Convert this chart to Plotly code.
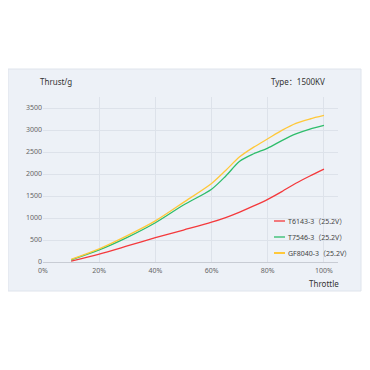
import plotly.graph_objects as go

throttle = [0.10, 0.20, 0.30, 0.40, 0.50, 0.60, 0.65, 0.70, 0.75, 0.80, 0.85, 0.90, 0.95, 1.00]
t6143 = [20, 180, 365, 553, 727, 905, 1010, 1135, 1275, 1425, 1600, 1790, 1955, 2110]
t7546 = [50, 275, 560, 893, 1295, 1655, 1950, 2290, 2460, 2590, 2760, 2910, 3020, 3105]
gf8040 = [60, 300, 600, 935, 1355, 1785, 2080, 2390, 2610, 2800, 2990, 3150, 3250, 3330]
names = ["T6143-3（25.2V）", "T7546-3（25.2V）", "GF8040-3（25.2V）"]
colors = ["#f4393c", "#2ebd6b", "#ffc83a"]
x_ticks = [0, 0.2, 0.4, 0.6, 0.8, 1.0]
x_tick_text = ["0%", "20%", "40%", "60%", "80%", "100%"]
y_ticks = [0, 500, 1000, 1500, 2000, 2500, 3000, 3500]

FONT = "Noto Sans, Noto Sans CJK SC, sans-serif"

fig = go.Figure()
for n, ys, c in zip(names, [t6143, t7546, gf8040], colors):
    fig.add_trace(go.Scatter(x=throttle, y=ys, name=n, mode="lines",
                             line=dict(color=c, width=1.3, shape="spline", smoothing=0.8)))

OFF = 8  # page body margin
SIZE = 370 - OFF
L, R, T, B = 43 - OFF, SIZE - (338 - OFF), 97 - OFF, SIZE - (262 - OFF)
W = SIZE - L - R
H = SIZE - T - B
def px(x):
    return (x - OFF - L) / W
def py(y):
    return (SIZE - B - (y - OFF)) / H

fig.add_shape(type="rect", xref="paper", yref="paper",
              x0=px(8), x1=px(361), y0=py(291), y1=py(69),
              fillcolor="#edf1f7", line=dict(color="#dfe4ec", width=1), layer="below")

annotations = [
    dict(text="Thrust/g", xref="paper", yref="paper", x=px(38), y=py(81),
         xanchor="left", yanchor="middle", showarrow=False,
         font=dict(size=8, color="#333", family=FONT)),
    dict(text="Type：1500KV", xref="paper", yref="paper", x=px(327), y=py(81),
         xanchor="right", yanchor="middle", showarrow=False,
         font=dict(size=8, color="#333", family=FONT)),
    dict(text="Throttle", xref="paper", yref="paper", x=px(341), y=py(283),
         xanchor="right", yanchor="middle", showarrow=False,
         font=dict(size=8, color="#333", family=FONT)),
]

# manual legend (short swatches, tight spacing as in reference)
for i, (n, c) in enumerate(zip(names, colors)):
    yy = 221 + 16 * i
    fig.add_shape(type="line", xref="paper", yref="paper",
                  x0=px(274), x1=px(285), y0=py(yy), y1=py(yy),
                  line=dict(color=c, width=2 if i == 2 else 1.3))
    annotations.append(dict(text=n, xref="paper", yref="paper", x=px(286), y=py(yy),
                            xanchor="left", yanchor="middle", showarrow=False,
                            font=dict(size=7, color="#444", family=FONT)))

fig.update_layout(
    width=SIZE, height=SIZE,
    margin=dict(l=L, r=R, t=T, b=B),
    paper_bgcolor="white", plot_bgcolor="rgba(0,0,0,0)",
    font=dict(family=FONT, size=7, color="#555"),
    showlegend=False,
    xaxis=dict(range=[0, 1.05], tickvals=x_ticks, ticktext=x_tick_text,
               showgrid=True, gridcolor="#dde2ea", gridwidth=1, zeroline=False,
               showline=False, ticks="", ticklabelstandoff=3,
               tickfont=dict(size=7, color="#666")),
    yaxis=dict(range=[0, 3750], tickvals=y_ticks, showgrid=True, gridcolor="#dde2ea",
               gridwidth=1, zeroline=True, zerolinecolor="#c8ccd4", zerolinewidth=1,
               ticks="", tickfont=dict(size=7, color="#666")),
    annotations=annotations,
)

fig.write_html("out.html")
